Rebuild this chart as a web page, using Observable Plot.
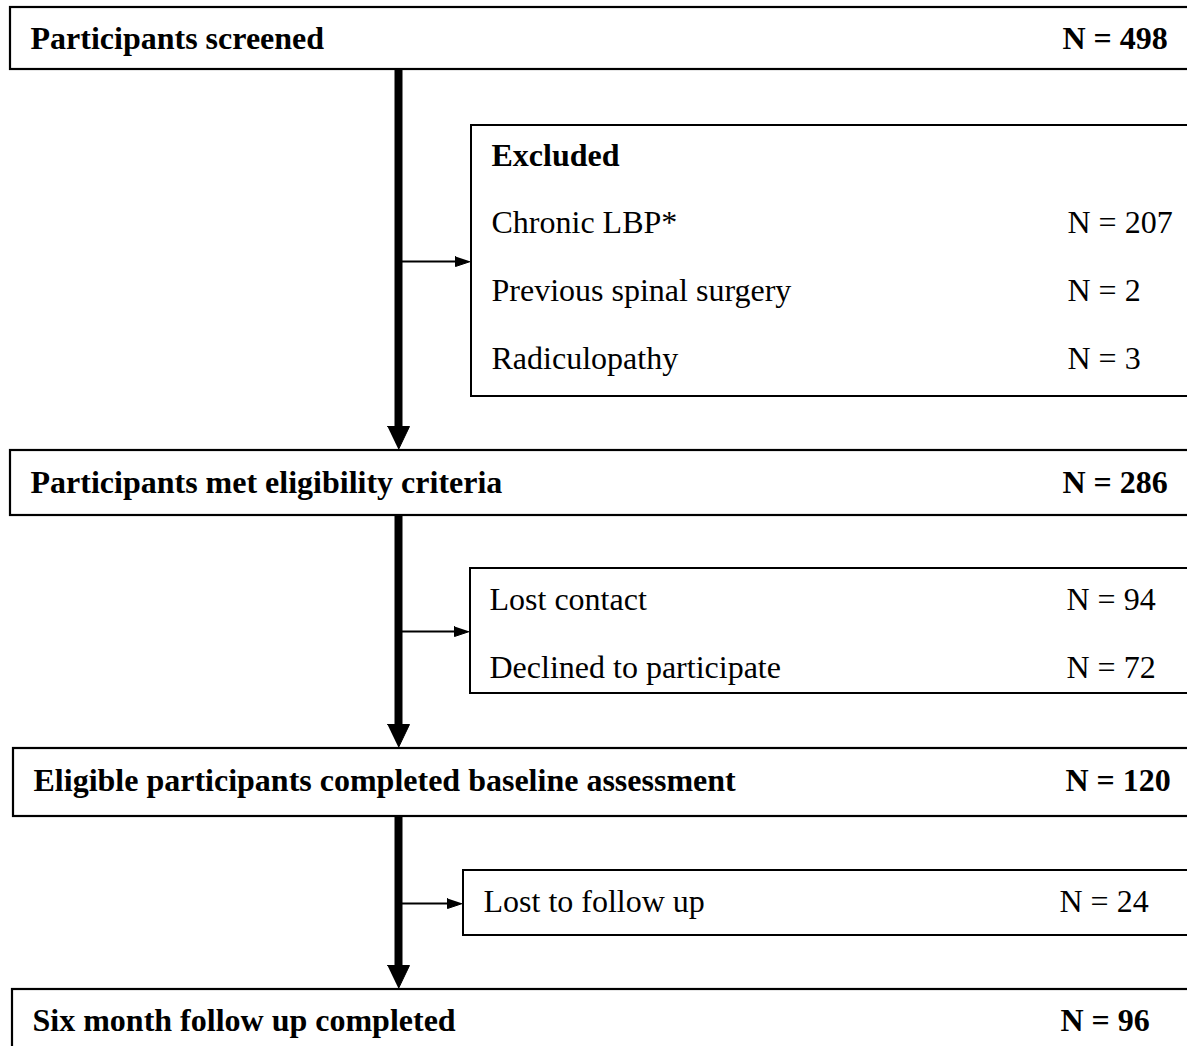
<!DOCTYPE html>
<html>
<head>
<meta charset="utf-8">
<script src="https://cdn.jsdelivr.net/npm/d3@7"></script>
<script src="https://cdn.jsdelivr.net/npm/@observablehq/plot@0.6"></script>
<style>
  html, body { margin: 0; padding: 0; background: #fff; overflow: hidden; }
  #chart svg { display: block; }
</style>
</head>
<body>
<div id="chart"></div>
<script>
// ---- Data ----
const stages = [
  "Participants screened",
  "Participants met eligibility criteria",
  "Eligible participants completed baseline assessment",
  "Six month follow up completed"
];
const stageN = [498, 286, 120, 96];

const excludedTitle = "Excluded";
const excludedReasons = ["Chronic LBP*", "Previous spinal surgery", "Radiculopathy"];
const excludedN = [207, 2, 3];

const lostReasons = ["Lost contact", "Declined to participate"];
const lostN = [94, 72];

const followReasons = ["Lost to follow up"];
const followN = [24];

// ---- Layout (pixel units of the drawing) ----
const W = 1187, H = 1046;
const FONT = "'Liberation Serif', 'Times New Roman', serif";
const FS = 32;
const spineX = 398;
const stageLayout = [
  {left: 10, top: 7,   bottom: 69,  ty: 38,   nx: 1062},
  {left: 10, top: 450, bottom: 515, ty: 482,  nx: 1062},
  {left: 13, top: 748, bottom: 816, ty: 780,  nx: 1065},
  {left: 12, top: 989, bottom: 1060, ty: 1020, nx: 1060}
];
const sideLayout = [
  {left: 471, top: 125, bottom: 396, arrowY: 261, tx: 491, nx: 1067, title: 155, rows: [222, 290, 358]},
  {left: 470, top: 568, bottom: 693, arrowY: 631, tx: 489, nx: 1066, rows: [599, 667]},
  {left: 463, top: 870, bottom: 935, arrowY: 903, tx: 483, nx: 1059, rows: [901]}
];
const sideReasons = [excludedReasons, lostReasons, followReasons];
const sideN = [excludedN, lostN, followN];

// build tables
const stageBoxes = stages.map((s, i) => ({label: s, n: stageN[i], ...stageLayout[i]}));
const sideBoxes = sideLayout.map((l, i) => ({...l, i}));
const sideRows = sideLayout.flatMap((l, i) =>
  sideReasons[i].map((r, j) => ({label: r, n: sideN[i][j], y: l.rows[j], tx: l.tx, nx: l.nx})));

// spine segments between stage boxes
const headH = 23, headW = 11;
const spines = stageLayout.slice(0, -1).map((b, i) => ({
  y1: b.bottom, y2: stageLayout[i + 1].top - headH + 2, tip: stageLayout[i + 1].top - 1
}));
const downHeads = spines.flatMap((s, k) => [
  {k, x: spineX - headW, y: s.tip - headH},
  {k, x: spineX + headW, y: s.tip - headH},
  {k, x: spineX, y: s.tip}
]);
const sideArrows = sideLayout.map((l) => ({x1: spineX + 4, x2: l.left - 14, y: l.arrowY}));
const sideHeads = sideLayout.flatMap((l, k) => [
  {k, x: l.left - 16, y: l.arrowY - 5},
  {k, x: l.left - 16, y: l.arrowY + 5},
  {k, x: l.left - 1, y: l.arrowY}
]);

const plot = Plot.plot({
  width: W,
  height: H,
  margin: 0,
  x: {domain: [0, W], range: [0, W], axis: null},
  y: {domain: [0, H], range: [0, H], axis: null},
  style: {background: "#fff", fontFamily: FONT, color: "#000"},
  marks: [
    // main stage boxes
    Plot.rect(stageBoxes, {x1: "left", x2: W + 20, y1: "top", y2: "bottom", fill: "white", stroke: "black", strokeWidth: 2.2, clip: true}),
    // side boxes
    Plot.rect(sideBoxes, {x1: "left", x2: W + 20, y1: "top", y2: "bottom", fill: "white", stroke: "black", strokeWidth: 2, clip: true}),
    // spine
    Plot.ruleX(spines, {x: spineX, y1: "y1", y2: "y2", stroke: "black", strokeWidth: 8}),
    Plot.line(downHeads, {x: "x", y: "y", z: "k", fill: "black", stroke: "black", strokeWidth: 1}),
    // side arrows
    Plot.ruleY(sideArrows, {y: "y", x1: "x1", x2: "x2", stroke: "black", strokeWidth: 2}),
    Plot.line(sideHeads, {x: "x", y: "y", z: "k", fill: "black", stroke: "black", strokeWidth: 1}),
    // stage labels
    Plot.text(stageBoxes, {x: d => d.left + 20, y: "ty", text: "label", textAnchor: "start", fontSize: FS, fontWeight: "bold", fill: "black"}),
    Plot.text(stageBoxes, {x: "nx", y: "ty", text: d => `N = ${d.n}`, textAnchor: "start", fontSize: FS, fontWeight: "bold", fill: "black"}),
    // excluded title
    Plot.text([sideLayout[0]], {x: "tx", y: "title", text: () => excludedTitle, textAnchor: "start", fontSize: FS, fontWeight: "bold", fill: "black"}),
    // side rows
    Plot.text(sideRows, {x: "tx", y: "y", text: "label", textAnchor: "start", fontSize: FS, fill: "black"}),
    Plot.text(sideRows, {x: "nx", y: "y", text: d => `N = ${d.n}`, textAnchor: "start", fontSize: FS, fill: "black"})
  ]
});
document.getElementById("chart").appendChild(plot);
</script>
</body>
</html>
